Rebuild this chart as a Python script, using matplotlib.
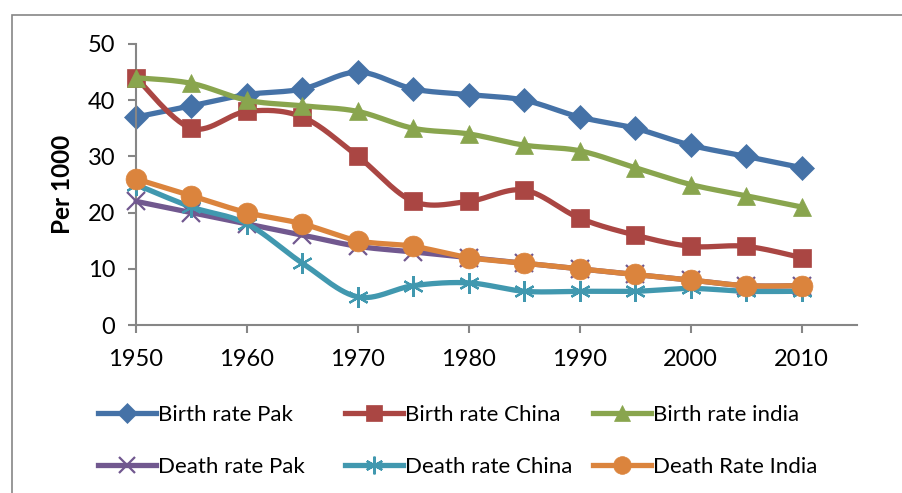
import numpy as np
import matplotlib
matplotlib.use("Agg")
import matplotlib.pyplot as plt
from matplotlib.lines import Line2D
from matplotlib.patches import Rectangle

years = [1950, 1955, 1960, 1965, 1970, 1975, 1980, 1985, 1990, 1995, 2000, 2005, 2010]
birth_pak = [37, 39, 41, 42, 45, 42, 41, 40, 37, 35, 32, 30, 28]
birth_china = [44, 35, 38, 37, 30, 22, 22, 24, 19, 16, 14, 14, 12]
birth_india = [44, 43, 40, 39, 38, 35, 34, 32, 31, 28, 25, 23, 21]
death_pak = [22, 20, 18, 16, 14, 13, 12, 11, 10, 9, 8, 7, 7]
death_china = [25, 21, 18, 11, 5, 7, 7.5, 6, 6, 6, 6.5, 6, 6]
death_india = [26, 23, 20, 18, 15, 14, 12, 11, 10, 9, 8, 7, 7]
labels = ["Birth rate Pak", "Birth rate China", "Birth rate india",
          "Death rate Pak", "Death rate China", "Death Rate India"]

plt.rcParams['font.family'] = ['Lato', 'DejaVu Sans']

colors = ["#4572A7", "#AA4643", "#89A54E", "#71588F", "#4198AF", "#DB843D"]
markers = ["D", "s", "^", "x", (6, 2, 0), "o"]
msizes = [12, 13, 13, 13, 15, 15]
series = [birth_pak, birth_china, birth_india, death_pak, death_china, death_india]


def smooth(x, y, n=30):
    x = np.asarray(x, float); y = np.asarray(y, float)
    P = np.column_stack([x, y])
    out = []
    for i in range(len(P) - 1):
        p0 = P[i - 1] if i > 0 else P[i]
        p1 = P[i]; p2 = P[i + 1]
        p3 = P[i + 2] if i + 2 < len(P) else P[i + 1]
        c1 = p1 + (p2 - p0) / 6.0
        c2 = p2 - (p3 - p1) / 6.0
        t = np.linspace(0, 1, n)[:, None]
        seg = ((1 - t) ** 3) * p1 + 3 * ((1 - t) ** 2) * t * c1 + 3 * (1 - t) * t ** 2 * c2 + t ** 3 * p2
        out.append(seg if i == 0 else seg[1:])
    S = np.vstack(out)
    return S[:, 0], S[:, 1]


fig = plt.figure(figsize=(9.03, 4.93), dpi=100)
fig.patches.append(Rectangle((12 / 903, -0.1), 1.2, 1 - 15 / 493 + 0.1, transform=fig.transFigure,
                             fill=False, edgecolor="#868686", linewidth=1.2, zorder=0))
ax = fig.add_axes([136 / 903, 1 - 325 / 493, (857 - 136) / 903, (325 - 44) / 493])

for i, s in enumerate(series):
    sx, sy = smooth(years, s)
    ax.plot(sx, sy, color=colors[i], lw=3.8, solid_capstyle='round', zorder=2 + i, clip_on=False)
    mew = 1.6 if i in (3, 4) else 0.5
    ax.plot(years, s, linestyle='none', marker=markers[i], ms=msizes[i], color=colors[i],
            mec=colors[i], mew=mew, zorder=2 + i, clip_on=False)

ax.set_xlim(1950, 2015)
ax.set_ylim(0, 50)
ax.set_xticks(range(1950, 2011, 10))
ax.set_yticks(range(0, 51, 10))
for sp in ["top", "right"]:
    ax.spines[sp].set_visible(False)
for sp in ["left", "bottom"]:
    ax.spines[sp].set_color("#868686")
    ax.spines[sp].set_linewidth(1.5)
ax.tick_params(axis='both', direction='out', length=6, width=1.5, color="#868686",
               labelsize=17, labelcolor="black")
ax.tick_params(axis='x', pad=11)
ax.tick_params(axis='y', pad=9)
ax.set_ylabel("Per 1000", fontsize=17.5, fontweight='bold', labelpad=10)
ax.patch.set_alpha(0)

# legend: three columns, two rows
col_x = [98, 345, 593]
for c in range(3):
    hs = []
    for r in range(2):
        i = r * 3 + c
        hs.append(Line2D([0], [0], color=colors[i], lw=3.8, marker=markers[i],
                         ms=msizes[i] * 0.85, mec=colors[i], mew=1.6 if i in (3, 4) else 0.5))
    fig.legend(hs, [labels[c], labels[c + 3]], loc='upper left',
               bbox_to_anchor=(col_x[c] / 903, 1 - 405 / 493), frameon=False,
               fontsize=16, handlelength=2.6, handletextpad=0.12, labelspacing=1.45,
               borderaxespad=0, borderpad=0)

fig.savefig("out.png", dpi=100)
